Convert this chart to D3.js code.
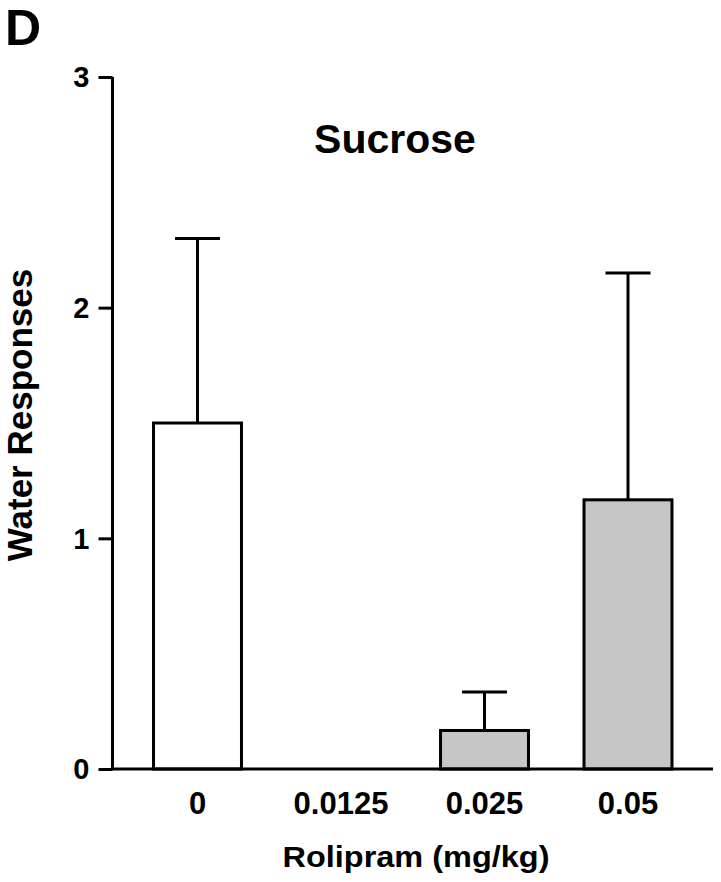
<!DOCTYPE html>
<html>
<head>
<meta charset="utf-8">
<script src="https://cdn.jsdelivr.net/npm/d3@7"></script>
<style>
  html, body { margin: 0; padding: 0; background: #fff; }
  svg { display: block; }
  text { font-family: "Liberation Sans", Arial, Helvetica, sans-serif; font-weight: bold; fill: #000; }
</style>
</head>
<body>
<script>
// ---- data ----
const categories = ["0", "0.0125", "0.025", "0.05"];
const means = [1.5, 0, 0.167, 1.167];
const errors = [0.8, 0, 0.167, 0.983];
const yTicks = [0, 1, 2, 3];
const title = "Sucrose";
const panelLabel = "D";
const xLabel = "Rolipram (mg/kg)";
const yLabel = "Water Responses";

// ---- layout ----
const W = 721, H = 882;
const svg = d3.select("body").append("svg").attr("width", W).attr("height", H);

const x = d3.scaleBand().domain(categories)
  .range([125.75, 699.75]).paddingInner(0.387).paddingOuter(0.1935);
const y = d3.scaleLinear().domain([0, 3]).range([769, 77]);

const fillFor = (d, i) => i === 0 ? "#ffffff" : "#c6c6c6";
const lw = 3;

const data = categories.map((c, i) => ({ c, m: means[i], e: errors[i], i }));

// error bars (drawn first, bars cover the lower part)
const eg = svg.append("g").attr("stroke", "#000").attr("stroke-width", lw).attr("fill", "none");
data.filter(d => d.e > 0).forEach(d => {
  const cx = x(d.c) + x.bandwidth() / 2;
  eg.append("line").attr("x1", cx).attr("x2", cx).attr("y1", y(d.m)).attr("y2", y(d.m + d.e));
  eg.append("line").attr("x1", cx - 22.5).attr("x2", cx + 22.5).attr("y1", y(d.m + d.e)).attr("y2", y(d.m + d.e));
});

// bars
svg.append("g").selectAll("rect").data(data.filter(d => d.m > 0)).join("rect")
  .attr("x", d => x(d.c))
  .attr("width", x.bandwidth())
  .attr("y", d => y(d.m))
  .attr("height", d => y(0) - y(d.m))
  .attr("fill", d => fillFor(d, d.i))
  .attr("stroke", "#000")
  .attr("stroke-width", lw);

// y axis
const yAxis = d3.axisLeft(y).tickValues(yTicks).tickFormat(d3.format("d")).tickSize(14).tickPadding(9);
const yg = svg.append("g").attr("transform", "translate(112.5,0)").call(yAxis);
yg.select(".domain").attr("stroke", "#000").attr("stroke-width", lw).attr("d", `M0,${y(3)}V${y(0)}`);
yg.selectAll(".tick line").attr("stroke", "#000").attr("stroke-width", lw);
yg.selectAll(".tick text").attr("font-size", 29).attr("font-weight", "bold")
  .attr("font-family", "Liberation Sans, Arial, sans-serif").attr("dy", "0.34em");

// x axis (line only, labels below)
const xAxis = d3.axisBottom(x).tickSize(0).tickPadding(0);
const xg = svg.append("g").attr("transform", `translate(0,${y(0)})`).call(xAxis);
xg.select(".domain").attr("stroke", "#000").attr("stroke-width", lw).attr("d", `M111,0H713`);
xg.selectAll(".tick text").attr("font-size", 31).attr("font-weight", "bold")
  .attr("font-family", "Liberation Sans, Arial, sans-serif")
  .attr("y", 45).attr("dy", 0);

// title
svg.append("text").attr("x", 395).attr("y", 153).attr("text-anchor", "middle")
  .attr("font-size", 41).text(title);

// panel label
svg.append("text").attr("x", 5).attr("y", 45).attr("font-size", 50).text(panelLabel);

// x label
svg.append("text").attr("text-anchor", "middle")
  .attr("transform", "translate(416,867) scale(1.12,1)")
  .attr("font-size", 29).text(xLabel);

// y label
svg.append("text").attr("text-anchor", "middle")
  .attr("transform", "translate(32,415) rotate(-90)")
  .attr("font-size", 35).text(yLabel);
</script>
</body>
</html>
